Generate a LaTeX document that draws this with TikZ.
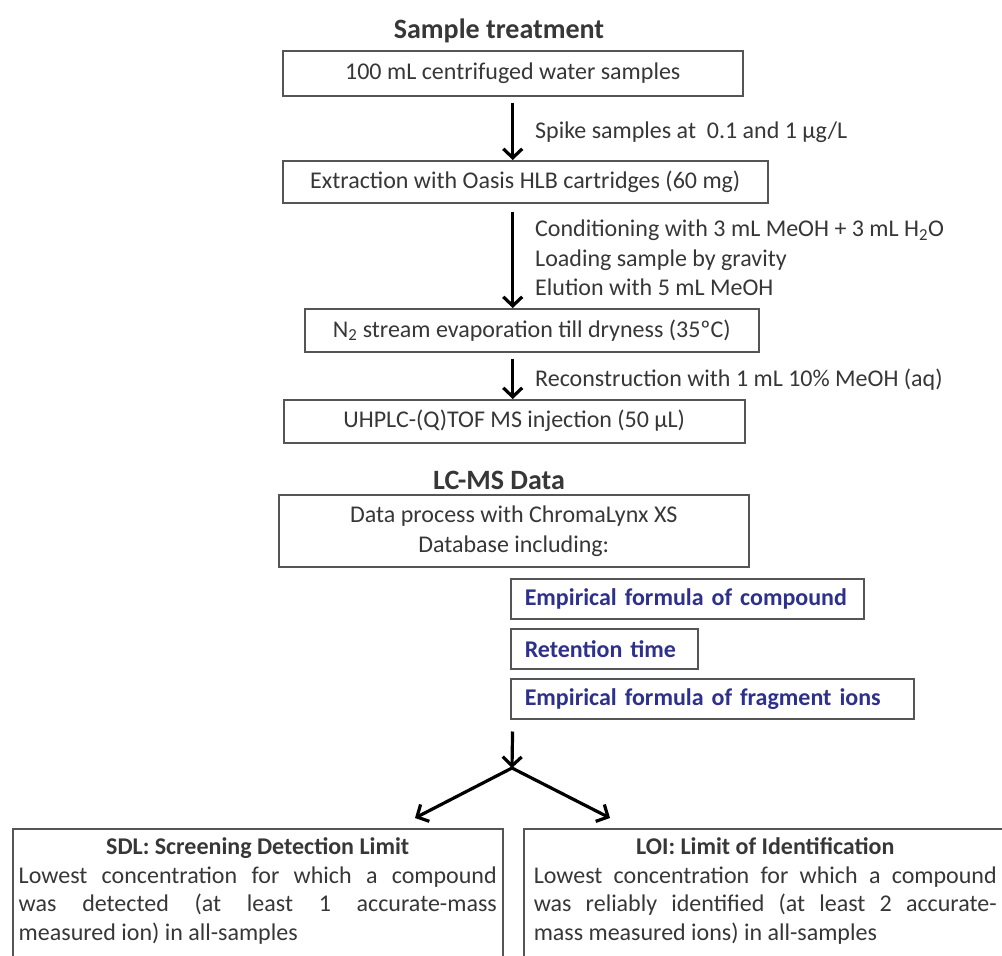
\documentclass[tikz,border=0pt]{standalone}
\usepackage{fontspec}
\setmainfont{Carlito}
\usetikzlibrary{arrows.meta}
\definecolor{txtgray}{RGB}{55,55,55}
\definecolor{linegray}{RGB}{85,85,85}
\definecolor{dblue}{RGB}{46,49,140}
\begin{document}
\begin{tikzpicture}[x=1pt,y=-1pt,
  box/.style={draw=linegray, line width=1.5pt, inner sep=0pt, anchor=north west,
    font=\fontsize{24}{30}\selectfont, text=txtgray, align=center},
  bluebox/.style={draw=linegray, line width=1.5pt, inner ysep=0pt, inner xsep=14pt, anchor=north west,
    font=\bfseries\fontsize{24}{28}\selectfont, text=dblue, align=left, minimum height=40},
  titletext/.style={font=\bfseries\fontsize{28}{32}\selectfont, text=txtgray, inner sep=0pt},
  lbl/.style={anchor=west, inner sep=0pt, font=\fontsize{24}{29.5}\selectfont, text=txtgray, align=left},
  limitbox/.style={draw=linegray, line width=1.5pt, anchor=north west, inner ysep=9pt,
    font=\fontsize{24}{28.5}\selectfont, text=txtgray, align=justify},
  arr/.style={line width=3.2pt, -{Straight Barb[length=9pt,width=19pt]}}
]
\useasboundingbox (0,0) rectangle (1002,956);
\fill[white] (0,0) rectangle (1002,956);

\node[titletext] (t1) at (499,31) {Sample treatment};
\node[box, minimum width=460, minimum height=45] (b1) at (282,50) {100 mL centrifuged water samples};
\node[box, minimum width=485, minimum height=42] (b2) at (282,160) {Extraction with Oasis HLB cartridges (60 mg)};
\node[box, minimum width=454, minimum height=43] (b3) at (304,308) {N\textsubscript{2} stream evaporation till dryness (35ºC)};
\node[box, minimum width=461, minimum height=43] (b4) at (283,399) {UHPLC-(Q)TOF MS injection (50 µL)};

\node[lbl] (l1) at (535,132) {Spike samples at\ \ 0.1 and 1 µg/L};
\node[lbl] (l2) at (535,258) {Conditioning with 3 mL MeOH + 3 mL H\textsubscript{2}O\\Loading sample by gravity\\Elution with 5 mL MeOH};
\node[lbl] (l3) at (535,380) {Reconstruction with 1 mL 10\% MeOH (aq)};

\node[titletext] (t2) at (499,480) {LC-MS Data};
\node[box, minimum width=470, minimum height=72] (b5) at (278,494) {Data process with ChromaLynx XS\\Database including:};

\node[bluebox, text width=325] (b6) at (510,578) {Empirical formula of compound};
\node[bluebox, text width=159] (b7) at (510,628) {Retention time};
\node[bluebox, text width=375] (b8) at (510,678) {Empirical formula of fragment ions};

\node[limitbox, inner xsep=6pt, text width=478] (sdl) at (12,828)
  {{\centering\bfseries SDL: Screening Detection Limit\par}
   Lowest concentration for which a compound\linebreak was detected (at least 1 accurate-mass\linebreak measured ion) in all-samples\par\vspace*{40pt}};
\node[limitbox, inner xsep=10pt, text width=463] (loi) at (523,828)
  {{\centering\bfseries LOI: Limit of Identification\par}
   Lowest concentration for which a compound\linebreak was reliably identified (at least 2 accurate-\linebreak mass measured ions) in all-samples\par\vspace*{40pt}};

\coordinate (j) at (512,768);
\coordinate (tipl) at (415,818);
\coordinate (tipr) at (610,818);

\draw[arr, shorten <=6pt] (b1.south) -- (b1.south |- b2.north);
\draw[arr, shorten <=8pt] (b1.south |- b2.south) -- (b1.south |- b3.north);
\draw[arr, shorten <=6pt] (b1.south |- b3.south) -- (b1.south |- b4.north);
\draw[arr, shorten <=12pt] (b1.south |- b8.south) -- (j);
\draw[arr] (j) -- (tipl);
\draw[arr] (j) -- (tipr);
\end{tikzpicture}
\end{document}
